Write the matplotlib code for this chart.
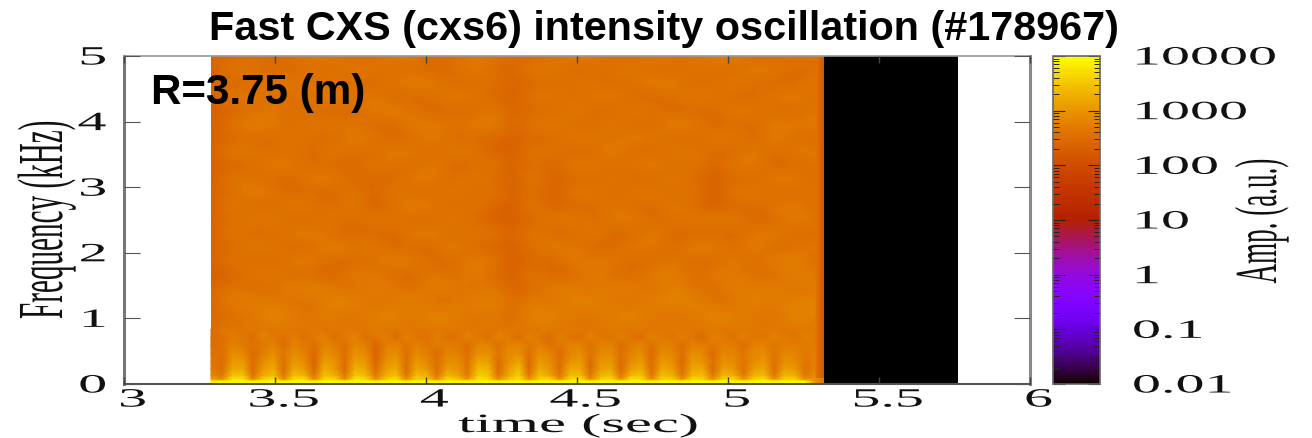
import numpy as np
import matplotlib
matplotlib.use('Agg')
from matplotlib import pyplot as plt
from matplotlib.colors import LogNorm
from matplotlib.patches import Rectangle
from matplotlib.patheffects import AbstractPathEffect
from matplotlib.ticker import LogLocator
from matplotlib.transforms import Affine2D, ScaledTranslation

title = 'Fast CXS (cxs6) intensity oscillation (#178967)'
radius_label = 'R=3.75 (m)'
x_ticks = [3, 3.5, 4, 4.5, 5, 5.5, 6]
x_tick_labels = ['3', '3.5', '4', '4.5', '5', '5.5', '6']
y_ticks = [0, 1, 2, 3, 4, 5]
amp_ticks = [0.01, 0.1, 1, 10, 100, 1000, 10000]
amp_labels = ['0.01', '0.1', '1', '10', '100', '1000', '10000']

# black block after the signal stops, amplitude at the bottom of the scale
quiet_t = [5.318, 5.762]
quiet_f = [0, 5]
quiet_amp = [[0.01]]

# darker last column just before the black block
edge_t = [5.292, 5.318]
edge_f = [0.1, 5]
edge_log = [[2.6, 2.15], [2.6, 2.15]]

# log10(amplitude), f = 5 kHz at the top row down to about 0.84 kHz
upper_t_first = 3.288
upper_t_step = 0.0666
upper_f_top = 5.0
upper_f_step = 0.2081
upper_log = [
    [2.34, 2.46, 2.55, 2.52, 2.56, 2.66, 2.64, 2.46, 2.48, 2.70, 2.66, 2.44, 2.58, 2.60, 2.66, 2.42, 2.46, 2.55, 2.70, 2.68, 2.46, 2.48, 2.66, 2.64, 2.50, 2.74, 2.70, 2.46, 2.44, 2.66, 2.60, 2.60],
    [2.32, 2.64, 2.62, 2.40, 2.42, 2.58, 2.46, 2.70, 2.66, 2.50, 2.52, 2.44, 2.46, 2.72, 2.50, 2.38, 2.68, 2.66, 2.46, 2.44, 2.62, 2.70, 2.44, 2.42, 2.66, 2.46, 2.48, 2.72, 2.66, 2.46, 2.48, 2.60],
    [2.30, 2.44, 2.42, 2.68, 2.70, 2.46, 2.66, 2.44, 2.42, 2.62, 2.74, 2.70, 2.48, 2.46, 2.60, 2.36, 2.46, 2.50, 2.62, 2.60, 2.44, 2.52, 2.74, 2.70, 2.42, 2.56, 2.70, 2.50, 2.42, 2.44, 2.70, 2.60],
    [2.32, 2.66, 2.68, 2.50, 2.46, 2.64, 2.70, 2.60, 2.66, 2.46, 2.42, 2.52, 2.70, 2.66, 2.44, 2.34, 2.64, 2.68, 2.42, 2.66, 2.70, 2.46, 2.42, 2.54, 2.70, 2.64, 2.42, 2.46, 2.68, 2.72, 2.50, 2.60],
    [2.28, 2.34, 2.48, 2.66, 2.58, 2.42, 2.44, 2.38, 2.70, 2.72, 2.60, 2.44, 2.46, 2.40, 2.66, 2.36, 2.48, 2.44, 2.72, 2.50, 2.46, 2.66, 2.62, 2.38, 2.46, 2.44, 2.72, 2.66, 2.46, 2.44, 2.66, 2.60],
    [2.34, 2.60, 2.76, 2.70, 2.44, 2.70, 2.62, 2.64, 2.44, 2.46, 2.70, 2.66, 2.62, 2.70, 2.74, 2.38, 2.66, 2.70, 2.50, 2.44, 2.70, 2.42, 2.48, 2.76, 2.68, 2.40, 2.50, 2.44, 2.70, 2.66, 2.70, 2.60],
    [2.30, 2.44, 2.50, 2.44, 2.66, 2.50, 2.42, 2.70, 2.66, 2.38, 2.50, 2.72, 2.44, 2.46, 2.44, 2.34, 2.44, 2.42, 2.70, 2.66, 2.52, 2.72, 2.66, 2.46, 2.44, 2.70, 2.66, 2.42, 2.72, 2.50, 2.44, 2.60],
    [2.36, 2.66, 2.70, 2.46, 2.60, 2.44, 2.70, 2.55, 2.44, 2.72, 2.68, 2.40, 2.70, 2.64, 2.38, 2.30, 2.66, 2.60, 2.40, 2.46, 2.76, 2.46, 2.42, 2.70, 2.62, 2.44, 2.46, 2.70, 2.44, 2.68, 2.70, 2.60],
    [2.32, 2.40, 2.44, 2.70, 2.68, 2.46, 2.46, 2.38, 2.66, 2.57, 2.44, 2.70, 2.42, 2.44, 2.66, 2.32, 2.54, 2.36, 2.70, 2.68, 2.40, 2.66, 2.72, 2.44, 2.66, 2.36, 2.70, 2.64, 2.42, 2.46, 2.55, 2.60],
    [2.28, 2.66, 2.62, 2.44, 2.42, 2.70, 2.72, 2.44, 2.46, 2.40, 2.70, 2.66, 2.46, 2.70, 2.46, 2.30, 2.70, 2.32, 2.46, 2.44, 2.66, 2.40, 2.44, 2.70, 2.44, 2.32, 2.46, 2.44, 2.70, 2.70, 2.46, 2.60],
    [2.34, 2.46, 2.72, 2.66, 2.44, 2.46, 2.38, 2.66, 2.36, 2.70, 2.48, 2.46, 2.70, 2.40, 2.66, 2.26, 2.57, 2.24, 2.66, 2.70, 2.44, 2.66, 2.70, 2.46, 2.66, 2.24, 2.66, 2.70, 2.46, 2.44, 2.66, 2.60],
    [2.30, 2.70, 2.48, 2.42, 2.70, 2.66, 2.44, 2.70, 2.32, 2.46, 2.76, 2.66, 2.42, 2.66, 2.44, 2.24, 2.70, 2.32, 2.46, 2.42, 2.66, 2.46, 2.44, 2.72, 2.46, 2.28, 2.46, 2.44, 2.68, 2.70, 2.44, 2.60],
    [2.32, 2.50, 2.66, 2.70, 2.46, 2.42, 2.68, 2.44, 2.66, 2.66, 2.44, 2.46, 2.70, 2.46, 2.34, 2.30, 2.46, 2.66, 2.72, 2.46, 2.66, 2.70, 2.44, 2.55, 2.70, 2.66, 2.70, 2.36, 2.46, 2.70, 2.66, 2.60],
    [2.28, 2.70, 2.42, 2.46, 2.66, 2.76, 2.46, 2.38, 2.48, 2.40, 2.70, 2.72, 2.44, 2.66, 2.64, 2.34, 2.66, 2.44, 2.40, 2.72, 2.44, 2.42, 2.72, 2.44, 2.42, 2.46, 2.42, 2.66, 2.72, 2.46, 2.44, 2.60],
    [2.36, 2.44, 2.70, 2.66, 2.40, 2.44, 2.76, 2.66, 2.70, 2.44, 2.46, 2.42, 2.76, 2.44, 2.38, 2.28, 2.60, 2.70, 2.68, 2.38, 2.46, 2.70, 2.64, 2.40, 2.76, 2.70, 2.50, 2.72, 2.42, 2.57, 2.70, 2.60],
    [2.32, 2.66, 2.46, 2.44, 2.70, 2.72, 2.46, 2.42, 2.50, 2.76, 2.70, 2.46, 2.46, 2.70, 2.66, 2.26, 2.46, 2.40, 2.70, 2.62, 2.70, 2.46, 2.42, 2.66, 2.46, 2.42, 2.70, 2.46, 2.76, 2.72, 2.46, 2.60],
    [2.30, 2.28, 2.66, 2.70, 2.46, 2.44, 2.34, 2.72, 2.66, 2.44, 2.42, 2.68, 2.44, 2.76, 2.46, 2.24, 2.70, 2.32, 2.46, 2.76, 2.42, 2.46, 2.76, 2.70, 2.46, 2.72, 2.66, 2.55, 2.44, 2.80, 2.66, 2.60],
    [2.36, 2.66, 2.46, 2.42, 2.76, 2.78, 2.66, 2.44, 2.76, 2.70, 2.44, 2.76, 2.72, 2.46, 2.70, 2.34, 2.46, 2.76, 2.70, 2.50, 2.78, 2.72, 2.46, 2.80, 2.55, 2.46, 2.78, 2.66, 2.78, 2.50, 2.70, 2.60],
    [2.40, 2.70, 2.76, 2.70, 2.52, 2.55, 2.80, 2.82, 2.50, 2.60, 2.82, 2.46, 2.50, 2.78, 2.80, 2.42, 2.74, 2.50, 2.80, 2.82, 2.57, 2.50, 2.80, 2.76, 2.82, 2.50, 2.56, 2.80, 2.66, 2.78, 2.80, 2.60],
    [2.40, 2.55, 2.60, 2.82, 2.76, 2.56, 2.72, 2.52, 2.78, 2.82, 2.56, 2.84, 2.78, 2.56, 2.66, 2.46, 2.82, 2.80, 2.60, 2.56, 2.76, 2.84, 2.58, 2.55, 2.66, 2.84, 2.78, 2.60, 2.56, 2.84, 2.76, 2.60],
    [2.46, 2.66, 2.62, 2.68, 2.66, 2.63, 2.68, 2.64, 2.63, 2.68, 2.62, 2.66, 2.68, 2.62, 2.68, 2.62, 2.64, 2.68, 2.64, 2.63, 2.68, 2.63, 2.66, 2.68, 2.63, 2.66, 2.68, 2.63, 2.68, 2.65, 2.66, 2.60],
]

# log10(amplitude) near the bottom, one dip every third column
lower_t = [3.288] + [3.325 + 0.03385 * k for k in range(59)] + [5.318]
lower_f = [0, 0.046, 0.076, 0.137, 0.229, 0.35, 0.47, 0.595, 0.716, 0.838]
lower_log = [
    [4.0] * 59 + [3.0, 2.6],
    [3.95] * 59 + [3.0, 2.6],
    [3.10, 2.90, 3.75, 3.80, 2.85, 3.60, 3.78, 2.90, 3.68, 3.75, 2.85, 3.65, 3.62, 2.90, 3.78, 3.68, 2.95, 3.55, 3.72, 2.90, 3.60, 3.55, 2.90, 3.65, 3.48, 3.00, 3.78, 3.62, 2.90, 3.50, 3.75, 2.95, 3.60, 3.68, 2.90, 3.65, 3.75, 2.90, 3.55, 3.72, 2.95, 3.75, 3.68, 2.90, 3.60, 3.60, 2.95, 3.68, 3.60, 2.95, 3.65, 3.65, 3.00, 3.60, 3.70, 2.95, 3.60, 3.55, 2.95, 3.00, 2.60],
    [2.85, 2.62, 3.42, 3.48, 2.60, 3.22, 3.40, 2.62, 3.42, 3.32, 2.60, 3.45, 3.30, 2.62, 3.48, 3.40, 2.66, 3.25, 3.42, 2.62, 3.40, 3.28, 2.62, 3.32, 3.22, 2.68, 3.55, 3.52, 2.62, 3.20, 3.58, 2.62, 3.42, 3.22, 2.62, 3.35, 3.40, 2.62, 3.32, 3.42, 2.62, 3.35, 3.48, 2.60, 3.42, 3.32, 2.62, 3.35, 3.42, 2.62, 3.32, 3.28, 2.66, 3.30, 3.40, 2.62, 3.35, 3.30, 2.62, 2.95, 2.55],
    [2.70, 2.52, 3.18, 3.22, 2.48, 3.05, 3.25, 2.50, 3.22, 3.10, 2.45, 3.28, 3.05, 2.48, 3.30, 3.20, 2.52, 3.10, 3.25, 2.50, 3.18, 3.02, 2.50, 3.10, 3.00, 2.60, 3.38, 3.35, 2.50, 3.08, 3.42, 2.48, 3.22, 3.05, 2.50, 3.18, 3.22, 2.50, 3.12, 3.20, 2.48, 3.10, 3.25, 2.50, 3.22, 3.12, 2.50, 3.22, 3.18, 2.48, 3.12, 3.02, 2.55, 3.10, 3.18, 2.50, 3.12, 3.05, 2.55, 2.85, 2.45],
    [2.62, 2.48, 3.02, 3.05, 2.52, 2.88, 3.10, 2.55, 3.05, 2.92, 2.40, 3.10, 2.98, 2.52, 3.12, 3.02, 2.42, 2.92, 3.10, 2.50, 3.02, 2.86, 2.55, 2.92, 2.90, 2.58, 3.15, 3.12, 2.52, 2.92, 3.18, 2.48, 3.05, 2.92, 2.55, 2.96, 3.05, 2.50, 2.98, 3.05, 2.52, 2.92, 3.05, 2.50, 3.05, 2.96, 2.48, 3.05, 2.98, 2.55, 2.96, 2.88, 2.62, 2.92, 3.02, 2.55, 2.96, 2.92, 2.62, 2.80, 2.40],
    [2.55, 2.55, 2.90, 2.84, 2.48, 2.75, 2.94, 2.62, 2.90, 2.78, 2.46, 2.94, 2.84, 2.55, 2.98, 2.88, 2.38, 2.84, 2.94, 2.58, 2.88, 2.75, 2.52, 2.82, 2.78, 2.55, 2.94, 2.96, 2.62, 2.88, 2.96, 2.55, 2.90, 2.82, 2.48, 2.84, 2.90, 2.62, 2.86, 2.90, 2.55, 2.82, 2.90, 2.48, 2.90, 2.84, 2.55, 2.94, 2.86, 2.48, 2.84, 2.82, 2.62, 2.86, 2.90, 2.62, 2.84, 2.82, 2.68, 2.75, 2.35],
    [2.50, 2.56, 2.80, 2.72, 2.58, 2.68, 2.82, 2.50, 2.80, 2.68, 2.58, 2.82, 2.72, 2.54, 2.84, 2.75, 2.42, 2.72, 2.82, 2.58, 2.76, 2.65, 2.68, 2.72, 2.68, 2.50, 2.80, 2.82, 2.58, 2.76, 2.82, 2.66, 2.77, 2.58, 2.66, 2.76, 2.80, 2.55, 2.76, 2.80, 2.50, 2.72, 2.80, 2.58, 2.80, 2.75, 2.50, 2.80, 2.72, 2.62, 2.75, 2.72, 2.52, 2.77, 2.80, 2.58, 2.75, 2.72, 2.66, 2.72, 2.32],
    [2.46, 2.56, 2.72, 2.62, 2.52, 2.76, 2.66, 2.60, 2.74, 2.55, 2.68, 2.76, 2.52, 2.70, 2.78, 2.55, 2.66, 2.74, 2.48, 2.74, 2.66, 2.55, 2.74, 2.58, 2.60, 2.76, 2.66, 2.55, 2.76, 2.70, 2.52, 2.78, 2.68, 2.50, 2.74, 2.64, 2.55, 2.76, 2.66, 2.58, 2.74, 2.60, 2.52, 2.76, 2.70, 2.60, 2.74, 2.66, 2.46, 2.76, 2.70, 2.58, 2.78, 2.66, 2.60, 2.76, 2.70, 2.60, 2.74, 2.70, 2.30],
    [2.48, 2.66, 2.64, 2.63, 2.68, 2.66, 2.63, 2.68, 2.64, 2.63, 2.68, 2.63, 2.63, 2.67, 2.68, 2.63, 2.68, 2.65, 2.63, 2.68, 2.63, 2.63, 2.68, 2.64, 2.63, 2.67, 2.68, 2.64, 2.63, 2.68, 2.66, 2.63, 2.67, 2.68, 2.63, 2.67, 2.68, 2.64, 2.63, 2.68, 2.66, 2.63, 2.68, 2.65, 2.63, 2.68, 2.68, 2.63, 2.65, 2.68, 2.63, 2.66, 2.68, 2.63, 2.67, 2.68, 2.63, 2.68, 2.67, 2.66, 2.34],
]


class Stretch(AbstractPathEffect):
    # the reference is a resampled image, its letters are not in normal proportion
    def __init__(self, sx=1.0, sy=1.0, about='center'):
        super().__init__()
        self.sx = sx
        self.sy = sy
        self.about = about

    def draw_path(self, renderer, gc, tpath, affine, rgbFace=None):
        xs = tpath.vertices[:, 0]
        if self.about == 'left':
            x0 = xs.min()
        elif self.about == 'right':
            x0 = xs.max()
        else:
            x0 = (xs.min() + xs.max()) / 2
        scale = Affine2D().translate(-x0, 0).scale(self.sx, self.sy).translate(x0, 0)
        renderer.draw_path(gc, tpath, scale + affine, rgbFace)


serif = 'Liberation Serif'
sans = 'Liberation Sans'

fig = plt.figure(figsize=(13.12, 4.39), dpi=100)
fw, fh = 1312.0, 439.0
ax = fig.add_axes([124 / fw, 1 - 385 / fh, 906 / fw, 328 / fh])
cax = fig.add_axes([1053 / fw, 1 - 385 / fh, 47 / fw, 328 / fh])

norm = LogNorm(vmin=0.01, vmax=10000)
upper_amp = 10 ** np.array(upper_log)
rows, cols = upper_amp.shape
# cell centres sit on the first row/column, so half a cell hangs over and gets clipped
upper_extent = [upper_t_first - upper_t_step / 2, upper_t_first + (cols - 0.5) * upper_t_step,
                upper_f_top - (rows - 0.5) * upper_f_step, upper_f_top + upper_f_step / 2]
im = ax.imshow(upper_amp, cmap='gnuplot', norm=norm, extent=upper_extent, aspect='auto',
               interpolation='bicubic', origin='upper')
im.set_clip_path(Rectangle((upper_t_first, 0), 5.318 - upper_t_first, 5, transform=ax.transData))
ax.pcolormesh(lower_t, lower_f, 10 ** np.array(lower_log), cmap='gnuplot', norm=norm, shading='gouraud')
ax.pcolormesh(edge_t, edge_f, 10 ** np.array(edge_log), cmap='gnuplot', norm=norm, shading='gouraud')
ax.pcolormesh(quiet_t, quiet_f, quiet_amp, cmap='gnuplot', norm=norm, shading='flat')

ax.set_xlim(3, 6)
ax.set_ylim(0, 5)
ax.set_axisbelow(False)

ax.set_xticks(x_ticks, labels=x_tick_labels)
ax.set_yticks(y_ticks)
ax.tick_params(axis='x', direction='in', top=True, bottom=True, length=5, width=1, color='#444444', pad=4)
ax.tick_params(axis='y', direction='in', left=True, right=True, length=11.5, width=0.8, color='#555555', pad=13)
for label in ax.get_xticklabels():
    label.set(family=serif, fontsize=19, color='#111111')
    label.set_path_effects([Stretch(sx=2.2)])
    label.set_transform(label.get_transform() + ScaledTranslation(8 / 100, 0, fig.dpi_scale_trans))
for label in ax.get_yticklabels():
    label.set(family=serif, fontsize=19, color='#111111')
    label.set_path_effects([Stretch(sx=2.2, about='right')])

ax.spines['left'].set(color='#777777', linewidth=2.2)
ax.spines['right'].set(color='#888888', linewidth=2.2)
ax.spines['top'].set(color='#999999', linewidth=1.2)
ax.spines['bottom'].set(color='#555555', linewidth=1.5)

ax.set_xlabel('time (sec)', family=serif, fontsize=19, color='#111111', va='baseline',
              path_effects=[Stretch(sx=2.3)])
ax.xaxis.set_label_coords((578 - 124) / 906, (385 - 433) / 328)
ax.set_ylabel('Frequency (kHz)', family=serif, fontsize=21, color='#111111', va='baseline',
              path_effects=[Stretch(sy=2.2)])
ax.yaxis.set_label_coords((62 - 124) / 906, (385 - 221) / 328)

ax.set_title(title, family=sans, fontweight='bold', fontsize=29.8, x=(664 - 124) / 906, y=(385 - 40) / 328,
             va='baseline', pad=0)
ax.text((151 - 124) / 906, (385 - 104) / 328, radius_label, transform=ax.transAxes, family=sans,
        fontweight='bold', fontsize=30.3, va='baseline', ha='left', color='black')

cb = fig.colorbar(im, cax=cax)
cb.set_ticks(amp_ticks, labels=amp_labels)
cax.yaxis.set_minor_locator(LogLocator(base=10, subs=range(2, 10), numticks=20))
cax.tick_params(which='major', direction='in', left=True, right=True, length=8.5, width=0.8, color='#222222', pad=23)
cax.tick_params(which='minor', direction='in', left=True, right=True, length=4, width=0.7, color='#222222')
for label in cax.get_yticklabels():
    label.set(family=serif, fontsize=19, color='#111111', ha='left')
    label.set_path_effects([Stretch(sx=2.2, about='left')])
cb.outline.set(edgecolor='#666666', linewidth=1.2)

cb.set_label('Amp. (a.u.)', family=serif, fontsize=19.5, color='#111111', rotation=90, va='baseline',
             path_effects=[Stretch(sy=2.2)])
cax.yaxis.set_label_coords((1276 - 1053) / 47, (385 - 222) / 328)

fig.savefig('out.png', dpi=100)
